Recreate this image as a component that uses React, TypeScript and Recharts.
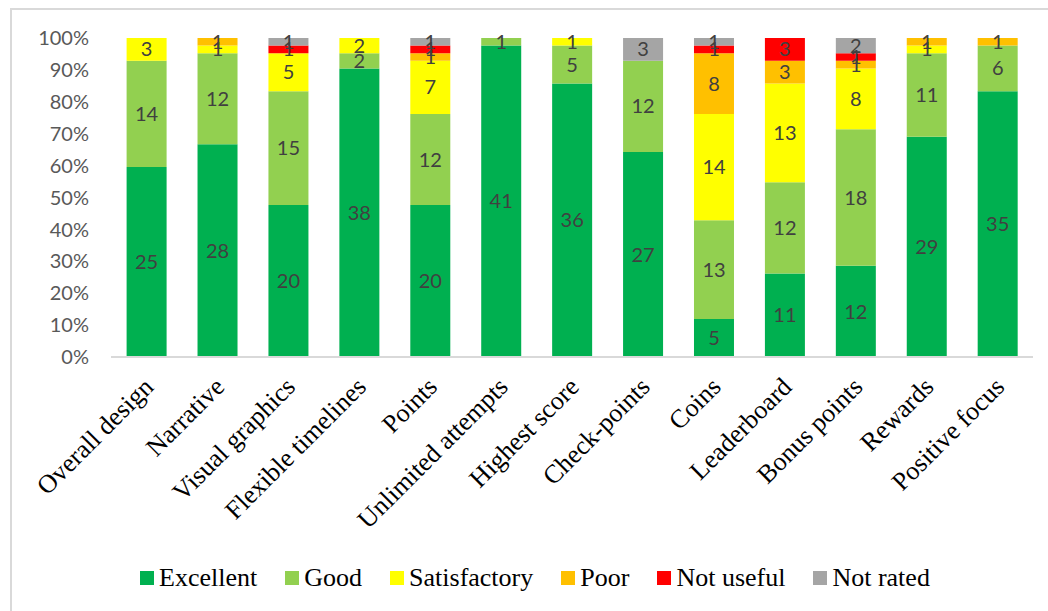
import { BarChart, Bar, XAxis, YAxis, LabelList } from 'recharts';

const categories = [
  'Overall design',
  'Narrative',
  'Visual graphics',
  'Flexible timelines',
  'Points',
  'Unlimited attempts',
  'Highest score',
  'Check-points',
  'Coins',
  'Leaderboard',
  'Bonus points',
  'Rewards',
  'Positive focus',
];

const excellent = [25, 28, 20, 38, 20, 41, 36, 27, 5, 11, 12, 29, 35];
const good = [14, 12, 15, 2, 12, 1, 5, 12, 13, 12, 18, 11, 6];
const satisfactory = [3, 1, 5, 2, 7, 0, 1, 0, 14, 13, 8, 1, 0];
const poor = [0, 1, 0, 0, 1, 0, 0, 0, 8, 3, 1, 1, 1];
const notUseful = [0, 0, 1, 0, 1, 0, 0, 0, 1, 3, 1, 0, 0];
const notRated = [0, 0, 1, 0, 1, 0, 0, 3, 1, 0, 2, 0, 0];

const yTicks = [0, 0.1, 0.2, 0.3, 0.4, 0.5, 0.6, 0.7, 0.8, 0.9, 1];

const series = [
  { key: 'excellent', name: 'Excellent', color: '#00B050', values: excellent },
  { key: 'good', name: 'Good', color: '#92D050', values: good },
  { key: 'satisfactory', name: 'Satisfactory', color: '#FFFF00', values: satisfactory },
  { key: 'poor', name: 'Poor', color: '#FFC000', values: poor },
  { key: 'notUseful', name: 'Not useful', color: '#FF0000', values: notUseful },
  { key: 'notRated', name: 'Not rated', color: '#A5A5A5', values: notRated },
];

const data = categories.map((name, i) => {
  const row: Record<string, string | number> = { name };
  series.forEach((s) => {
    row[s.key] = s.values[i];
  });
  return row;
});

const numFont = 'Lato, sans-serif';
const serifFont = 'Liberation Serif';

function CategoryTick({ x, y, payload }: any) {
  return (
    <g transform={`translate(${x + 2},${y + 17}) rotate(-45)`}>
      <text
        textAnchor="end"
        dy="0.35em"
        style={{ fontFamily: serifFont, fontSize: 26 }}
        fill="#000"
      >
        {payload.value}
      </text>
    </g>
  );
}

function ChartLegend() {
  return (
    <div
      style={{
        display: 'flex',
        justifyContent: 'center',
        gap: 28,
        fontFamily: serifFont,
        fontSize: 26,
        lineHeight: '30px',
        color: '#000',
        paddingLeft: 22,
      }}
    >
      {series.map((s) => (
        <span key={s.key} style={{ display: 'flex', alignItems: 'center' }}>
          <span
            style={{
              width: 14,
              height: 14,
              background: s.color,
              marginRight: 5,
              display: 'inline-block',
            }}
          />
          {s.name}
        </span>
      ))}
    </div>
  );
}

export default function App() {
  return (
    <div style={{ position: 'relative', width: 1048, height: 611, background: '#fff' }}>
      <style>{`body{margin:0;}`}</style>
      <div
        style={{
          position: 'absolute',
          left: 10,
          top: 8,
          width: 1060,
          height: 640,
          borderLeft: '2px solid #d9d9d9',
          borderTop: '2px solid #d9d9d9',
        }}
      />
      <div style={{ position: 'absolute', left: 0, top: 0 }}>
        <BarChart
          width={1048}
          height={560}
          data={data}
          stackOffset="expand"
          barCategoryGap="22%"
          margin={{ top: 38, right: 15, bottom: 0, left: 0 }}
        >
          <XAxis
            dataKey="name"
            interval={0}
            height={203}
            axisLine={{ stroke: '#d9d9d9', strokeWidth: 2 }}
            tickLine={false}
            tick={<CategoryTick />}
          />
          <YAxis
            width={111}
            domain={[0, 1]}
            ticks={yTicks}
            tickFormatter={(v: number) => `${Math.round(v * 100)}%`}
            axisLine={false}
            tickLine={false}
            tick={{ fontSize: 20, fill: '#595959', fontFamily: numFont }}
            tickMargin={16}
          />
          {series.map((s) => (
            <Bar
              key={s.key}
              dataKey={s.key}
              name={s.name}
              stackId="a"
              fill={s.color}
              isAnimationActive={false}
            >
              <LabelList
                dataKey={s.key}
                position="center"
                fill="#404040"
                fontSize={20}
                fontFamily={numFont}
                formatter={(v: any) => (v ? v : '')}
              />
            </Bar>
          ))}
        </BarChart>
      </div>
      <div style={{ position: 'absolute', left: 0, top: 563, width: 1048 }}>
        <ChartLegend />
      </div>
    </div>
  );
}
